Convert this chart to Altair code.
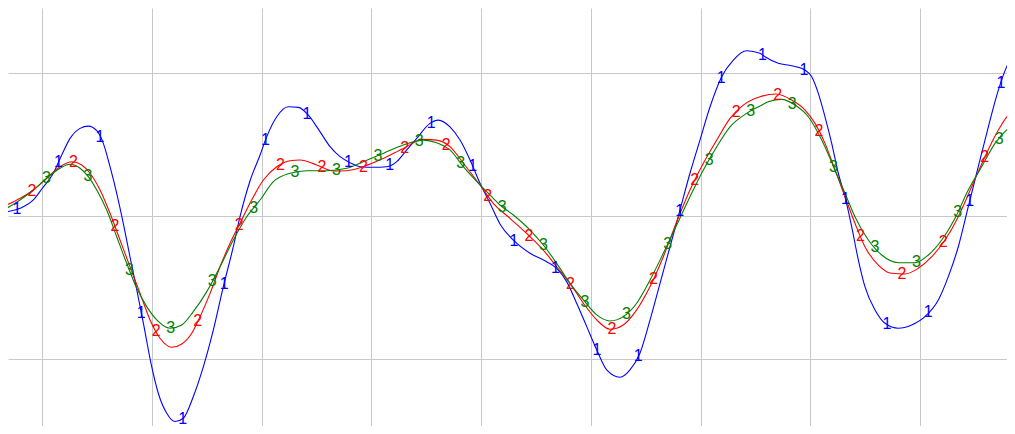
import numpy as np
import pandas as pd
import altair as alt

# ---- series data (x in grid units, y in grid units) ----
blue_x = [-0.325, -0.203, -0.082, 0.0, 0.100, 0.177, 0.253, 0.344, 0.419, 0.496, 0.556, 0.617, 0.678,
          0.738, 0.799, 0.861, 0.921, 0.997, 1.057, 1.134, 1.210, 1.285, 1.376, 1.468, 1.559, 1.650,
          1.741, 1.802, 1.893, 1.985, 2.046, 2.137, 2.242, 2.334, 2.425, 2.531, 2.623, 2.714, 2.805,
          2.896, 3.017, 3.139, 3.231, 3.322, 3.413, 3.534, 3.610, 3.716, 3.808, 3.899, 3.990, 4.081,
          4.172, 4.309, 4.446, 4.598, 4.689, 4.780, 4.871, 4.963, 5.054, 5.145, 5.266, 5.357, 5.448,
          5.540, 5.631, 5.722, 5.813, 5.904, 5.995, 6.087, 6.193, 6.299, 6.421, 6.542, 6.588, 6.709,
          6.831, 6.953, 7.014, 7.074, 7.135, 7.196, 7.256, 7.317, 7.378, 7.439, 7.499, 7.591, 7.682,
          7.803, 7.925, 8.046, 8.168, 8.259, 8.350, 8.441, 8.532, 8.624, 8.715, 8.806, 8.851]
blue_y = [0.030, 0.054, 0.112, 0.194, 0.299, 0.427, 0.543, 0.613, 0.629, 0.597, 0.508, 0.345, 0.159,
          -0.051, -0.285, -0.517, -0.750, -1.054, -1.240, -1.380, -1.438, -1.415, -1.264, -1.054,
          -0.797, -0.494, -0.215, -0.005, 0.245, 0.427, 0.555, 0.694, 0.764, 0.760, 0.706, 0.590,
          0.485, 0.415, 0.373, 0.345, 0.341, 0.345, 0.380, 0.462, 0.543, 0.648, 0.671, 0.624, 0.531,
          0.392, 0.229, 0.089, -0.056, -0.180, -0.261, -0.320, -0.366, -0.459, -0.610, -0.774,
          -0.937, -1.077, -1.128, -1.077, -0.960, -0.727, -0.471, -0.215, 0.042, 0.299, 0.531,
          0.764, 0.974, 1.091, 1.156, 1.138, 1.114, 1.068, 1.051, 1.021, 0.974, 0.858, 0.694, 0.508,
          0.299, 0.135, -0.075, -0.308, -0.494, -0.657, -0.750, -0.785, -0.762, -0.704, -0.587,
          -0.424, -0.215, 0.065, 0.345, 0.624, 0.881, 1.068, 1.114]

red_x = [-0.325, -0.203, -0.082, 0.040, 0.161, 0.268, 0.359, 0.435, 0.526, 0.617, 0.708, 0.799, 0.891,
         0.982, 1.073, 1.180, 1.271, 1.362, 1.438, 1.529, 1.620, 1.711, 1.802, 1.893, 2.015, 2.137,
         2.258, 2.349, 2.501, 2.653, 2.775, 2.926, 3.108, 3.291, 3.473, 3.595, 3.716, 3.838, 3.990,
         4.111, 4.263, 4.430, 4.567, 4.689, 4.810, 4.932, 5.054, 5.175, 5.296, 5.418, 5.540, 5.661,
         5.783, 5.904, 6.026, 6.148, 6.269, 6.390, 6.542, 6.688, 6.831, 6.953, 7.044, 7.135, 7.226,
         7.317, 7.408, 7.499, 7.621, 7.743, 7.864, 7.985, 8.108, 8.229, 8.350, 8.472, 8.593, 8.715,
         8.806, 8.867]
red_y = [0.077, 0.124, 0.182, 0.264, 0.345, 0.380, 0.357, 0.299, 0.182, 0.019, -0.168, -0.355, -0.541,
         -0.727, -0.855, -0.918, -0.895, -0.820, -0.704, -0.541, -0.355, -0.191, -0.051, 0.089,
         0.252, 0.345, 0.387, 0.392, 0.357, 0.315, 0.317, 0.345, 0.403, 0.473, 0.536, 0.531, 0.485,
         0.369, 0.217, 0.089, -0.016, -0.133, -0.238, -0.355, -0.471, -0.610, -0.727, -0.792,
         -0.762, -0.657, -0.494, -0.285, -0.040, 0.182, 0.369, 0.531, 0.683, 0.776, 0.834, 0.853,
         0.811, 0.741, 0.648, 0.508, 0.322, 0.135, -0.051, -0.215, -0.343, -0.401, -0.406, -0.366,
         -0.285, -0.168, -0.005, 0.205, 0.415, 0.601, 0.706, 0.736]

green_x = [-0.325, -0.203, -0.082, 0.040, 0.161, 0.253, 0.344, 0.419, 0.496, 0.587, 0.678, 0.769,
           0.861, 0.952, 1.043, 1.164, 1.271, 1.376, 1.499, 1.620, 1.741, 1.863, 1.985, 2.106, 2.258,
           2.410, 2.593, 2.775, 2.926, 3.108, 3.291, 3.473, 3.595, 3.716, 3.838, 3.990, 4.111, 4.172,
           4.294, 4.446, 4.567, 4.689, 4.810, 4.932, 5.054, 5.175, 5.296, 5.418, 5.540, 5.661, 5.783,
           5.904, 6.026, 6.148, 6.269, 6.421, 6.542, 6.618, 6.740, 6.862, 6.983, 7.105, 7.226, 7.317,
           7.408, 7.530, 7.652, 7.803, 7.955, 8.077, 8.199, 8.320, 8.441, 8.563, 8.685, 8.806, 8.867]
green_y = [0.054, 0.112, 0.182, 0.264, 0.334, 0.362, 0.334, 0.275, 0.182, 0.042, -0.145, -0.331,
           -0.506, -0.634, -0.727, -0.785, -0.762, -0.669, -0.529, -0.355, -0.168, -0.005, 0.112,
           0.240, 0.299, 0.317, 0.317, 0.334, 0.380, 0.438, 0.497, 0.531, 0.513, 0.462, 0.345, 0.217,
           0.124, 0.077, 0.007, -0.098, -0.203, -0.331, -0.471, -0.587, -0.692, -0.734, -0.704,
           -0.610, -0.448, -0.261, -0.063, 0.135, 0.322, 0.485, 0.624, 0.718, 0.769, 0.799, 0.816,
           0.776, 0.694, 0.531, 0.322, 0.159, -0.005, -0.168, -0.273, -0.327, -0.327, -0.273, -0.168,
           -0.016, 0.182, 0.345, 0.508, 0.613, 0.648]

series_names = ["1", "2", "3"]
series_colors = ["#0000ff", "#ff0000", "#008000"]

# label placement along each curve: start and spacing (grid units), count
label_start = [-0.231, -0.094, 0.038]
label_step = 0.3776
label_count = [25, 24, 24]
label_x_max = 8.74  # keep the last label inside the visible area

grid_x = [0, 1, 2, 3, 4, 5, 6, 7, 8]
grid_y = [-1, 0, 1]

# ---- build tables ----
xs = [blue_x, red_x, green_x]
ys = [blue_y, red_y, green_y]
line_rows = []
label_rows = []
for name, sx, sy, st, n in zip(series_names, xs, ys, label_start, label_count):
    for i, (a, b) in enumerate(zip(sx, sy)):
        line_rows.append({"series": name, "x": a, "y": b, "i": i})
    lx = np.minimum(st + label_step * np.arange(n), label_x_max)
    ly = np.interp(lx, sx, sy)
    for a, b in zip(lx, ly):
        label_rows.append({"series": name, "x": float(a), "y": float(b)})

lines_df = pd.DataFrame(line_rows)
labels_df = pd.DataFrame(label_rows)

xscale = alt.Scale(domain=[-0.313, 8.794], nice=False, zero=False)
yscale = alt.Scale(domain=[-1.469, 1.455], nice=False, zero=False)
cscale = alt.Scale(domain=series_names, range=series_colors)

xaxis = alt.Axis(values=grid_x, grid=True, labels=False, ticks=False, domain=False, title=None,
                 gridColor="#c8c8c8", gridWidth=1)
yaxis = alt.Axis(values=grid_y, grid=True, labels=False, ticks=False, domain=False, title=None,
                 gridColor="#c8c8c8", gridWidth=1)

lines = alt.Chart(lines_df).mark_line(strokeWidth=1.1, clip=True, interpolate="monotone").encode(
    x=alt.X("x:Q", scale=xscale, axis=xaxis),
    y=alt.Y("y:Q", scale=yscale, axis=yaxis),
    color=alt.Color("series:N", scale=cscale, legend=None),
    order="i:Q",
)

labels = alt.Chart(labels_df).mark_text(
    font="Liberation Sans", fontSize=16, align="center", baseline="middle", clip=True
).encode(
    x=alt.X("x:Q", scale=xscale),
    y=alt.Y("y:Q", scale=yscale),
    text="series:N",
    color=alt.Color("series:N", scale=cscale, legend=None),
)

chart = alt.layer(lines, labels).properties(
    width=999, height=418, padding=0
).configure_view(stroke=None)

chart.save("out.html", embed_options={"renderer": "svg", "actions": False})
